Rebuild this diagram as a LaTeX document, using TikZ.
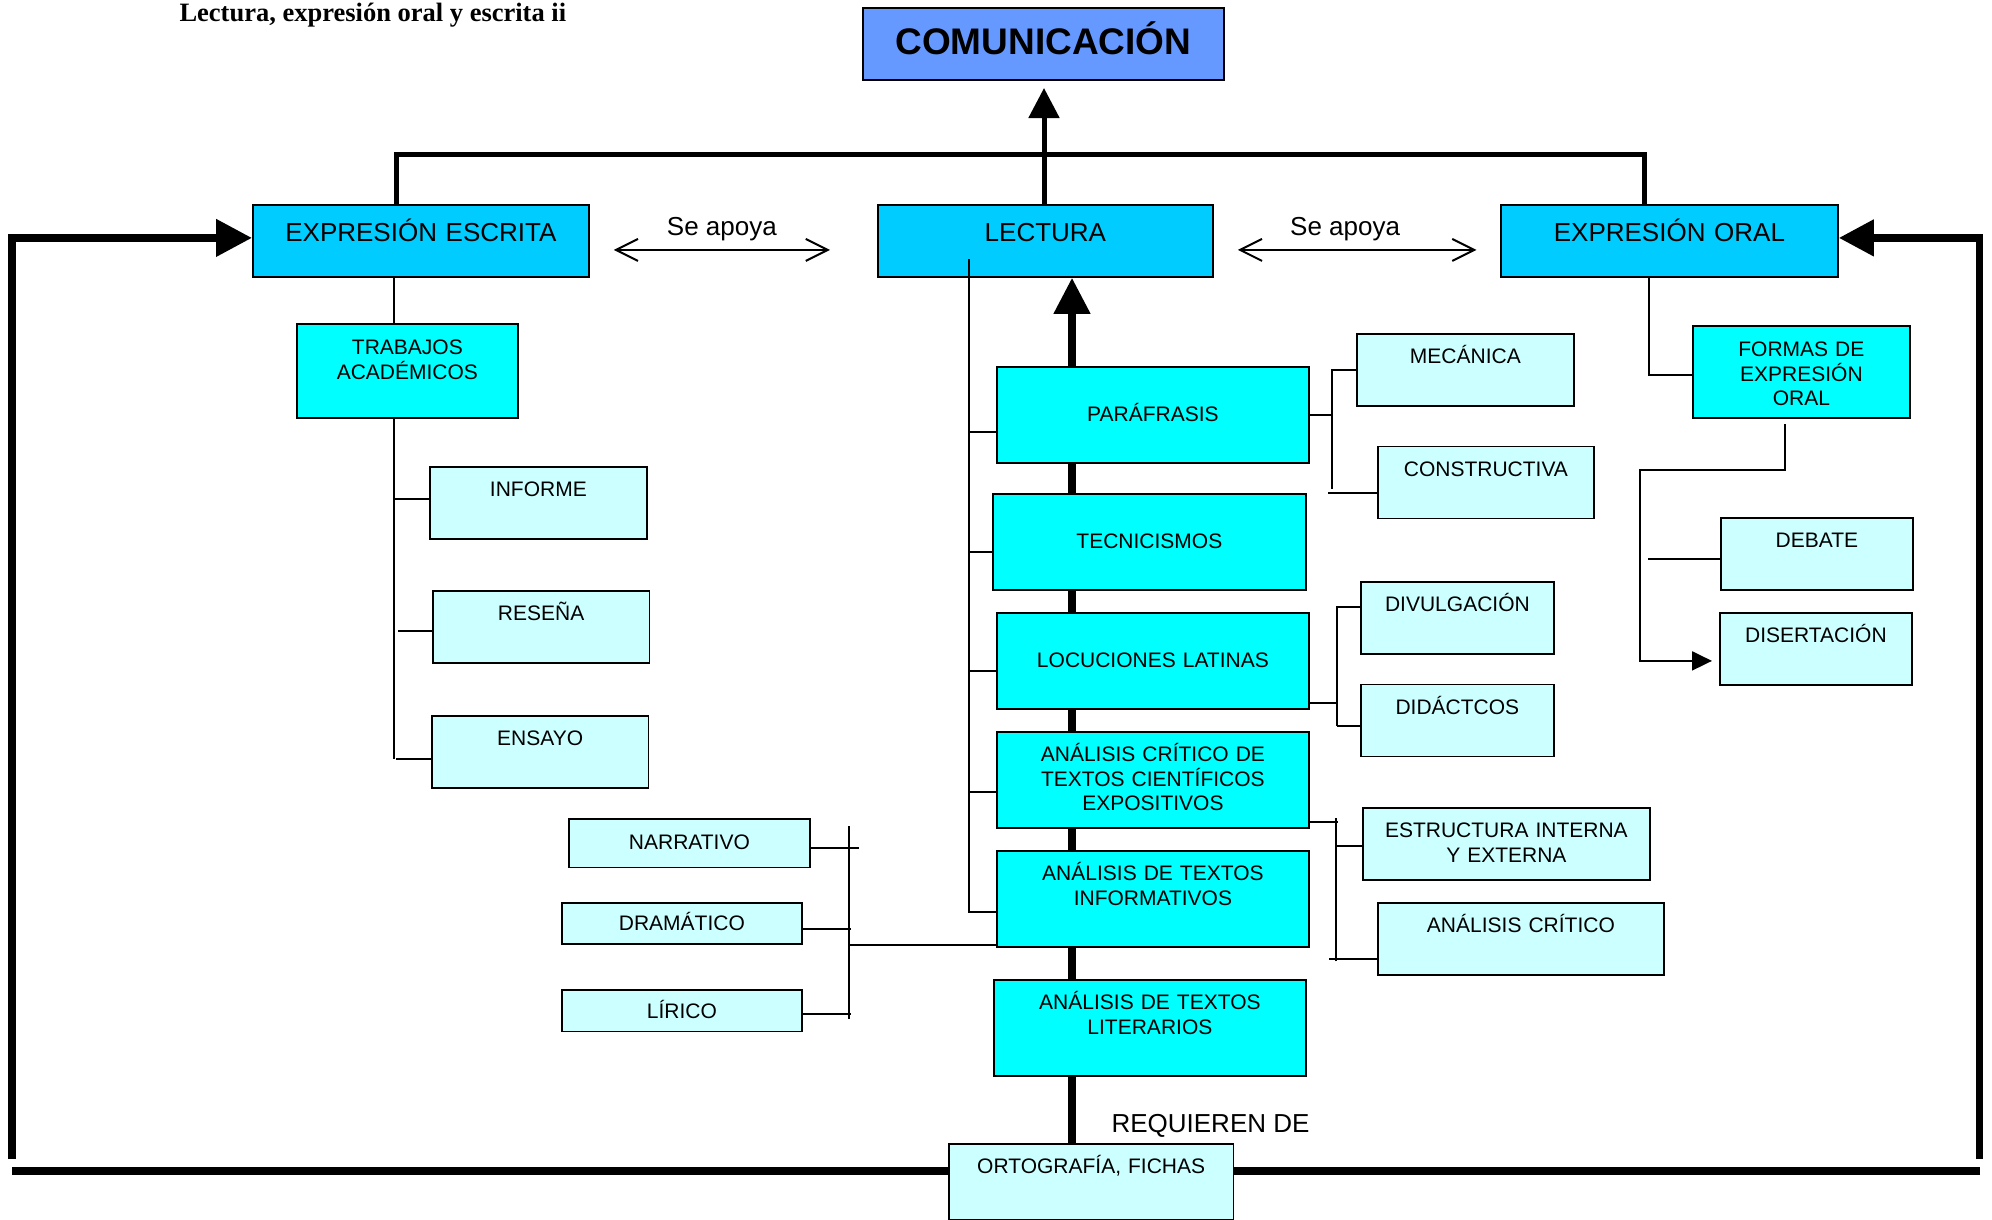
\documentclass[tikz,border=0pt]{standalone}
\usepackage{fontspec}
\setmainfont{Liberation Sans}
\newfontfamily\titlefont{Liberation Serif}
\usetikzlibrary{arrows.meta,backgrounds}
\definecolor{azulcom}{HTML}{6699FF}
\definecolor{azul}{HTML}{00CCFF}
\definecolor{turquesa}{HTML}{00FFFF}
\definecolor{celeste}{HTML}{CCFFFF}
\tikzset{>={Straight Barb[length=22pt,width=22pt]}}
\tikzset{
    caja/.style={draw, line width=1.8pt, inner sep=0pt, align=center, anchor=north west,
        font=\fontsize{21}{24.5}\selectfont, text height=15pt},
    hoja/.style={caja, fill=celeste, minimum height=72pt, text depth=27pt},
    tema/.style={caja, fill=turquesa},
    rama/.style={caja, fill=azul, minimum height=72pt, font=\fontsize{26}{30}\selectfont,
        text height=18.6pt, text depth=18.4pt},
    fino/.style={line width=2pt},
    grueso/.style={line width=5pt},
    lazo/.style={line width=7.5pt},
}

\begin{document}
\begin{tikzpicture}[x=1pt, y=-1pt]

    \useasboundingbox (0,0) rectangle (1992,1219);

    \node[anchor=base west, font=\titlefont\bfseries\fontsize{26.5}{30}\selectfont] (titulo) at (176,21) {Lectura, expresión oral y escrita ii};

    \node[caja, fill=azulcom, text width=361pt, minimum height=72pt, font=\bfseries\fontsize{37}{40}\selectfont,
        text height=26.5pt, text depth=6pt] (com) at (862,7) {COMUNICACIÓN};

    \node[rama, text width=336pt] (escrita) at (252,204) {EXPRESIÓN ESCRITA};
    \node[rama, text width=335pt] (lect) at (877,204) {LECTURA};
    \node[rama, text width=337pt] (oral) at (1500,204) {EXPRESIÓN ORAL};

    % columna de la lectura
    \node[tema, text width=312pt, minimum height=96pt, text depth=2pt] (para) at (996,366) {PARÁFRASIS};
    \node[tema, text width=313pt, minimum height=96pt, text depth=2pt] (tec) at (992,493) {TECNICISMOS};
    \node[tema, text width=312pt, minimum height=96pt, text depth=2pt] (loc) at (996,612) {LOCUCIONES LATINAS};
    \node[tema, text width=312pt, minimum height=96pt, text depth=51pt] (crit) at (996,731) {ANÁLISIS CRÍTICO DE\\TEXTOS CIENTÍFICOS\\EXPOSITIVOS};
    \node[tema, text width=312pt, minimum height=96pt, text depth=51pt] (info) at (996,850) {ANÁLISIS DE TEXTOS\\INFORMATIVOS};
    \node[tema, text width=312pt, minimum height=96pt, text depth=51pt] (lit) at (993,979) {ANÁLISIS DE TEXTOS\\LITERARIOS};

    \node[hoja, text width=217pt] (mec) at (1356,333) {MECÁNICA};
    \node[hoja, text width=216pt] (cons) at (1377,445.5) {CONSTRUCTIVA};
    \node[hoja, text width=193pt] (div) at (1360,581) {DIVULGACIÓN};
    \node[hoja, text width=193pt] (did) at (1360,683.5) {DIDÁCTCOS};
    \node[hoja, text width=287pt] (estr) at (1362,807) {ESTRUCTURA INTERNA\\Y EXTERNA};
    \node[hoja, text width=286pt] (acrit) at (1377,902) {ANÁLISIS CRÍTICO};

    \node[hoja, text width=241pt, minimum height=48.5pt, text depth=2pt] (narr) at (568,818) {NARRATIVO};
    \node[hoja, text width=240pt, minimum height=41pt, text depth=0pt] (dram) at (561,902) {DRAMÁTICO};
    \node[hoja, text width=240pt, minimum height=41.5pt, text depth=0pt] (lir) at (561,989) {LÍRICO};

    % expresion escrita
    \node[tema, text width=221pt, minimum height=94pt, text depth=47pt] (trab) at (296,323) {TRABAJOS\\ACADÉMICOS};
    \node[hoja, text width=217pt] (inf) at (429,466) {INFORME};
    \node[hoja, text width=216.5pt] (res) at (432,590) {RESEÑA};
    \node[hoja, text width=216.5pt] (ens) at (431,715) {ENSAYO};

    % expresion oral
    \node[tema, text width=217pt, minimum height=92pt, text depth=45pt] (formas) at (1692,325) {FORMAS DE\\EXPRESIÓN\\ORAL};
    \node[hoja, text width=192pt] (deb) at (1720,517) {DEBATE};
    \node[hoja, text width=192pt] (dis) at (1719,612) {DISERTACIÓN};

    \node[hoja, text width=284.5pt, minimum height=76pt, text depth=32pt] (orto) at (948,1143) {ORTOGRAFÍA, FICHAS};
    \node[anchor=base west, font=\fontsize{26}{30}\selectfont] (req) at (1108,1132) {REQUIEREN DE};

    \coordinate (marco) at (1044,154);
    \coordinate (punta) at (1044,88);
    \coordinate (eje) at (1072,0);
    \coordinate (lizq) at (12,1159);
    \coordinate (lder) at (1979.5,1159);
    \coordinate (bizq) at (12,1171);
    \coordinate (bder) at (1980,1171);
    \coordinate (bl) at (969,259);
    \coordinate (barra) at (849,826);
    \coordinate (codo) at (1640,469.6);

    \begin{scope}[on background layer]
        \draw[lazo, -{Triangle[length=36pt,width=35pt]}] (eje |- orto.north) -- (eje |- lect.south);
    \end{scope}

    \draw[grueso] ([xshift=-24.5pt]escrita.north) |- (marco) -| ([xshift=-24.5pt]oral.north);
    \draw[grueso, -{Triangle[length=30pt,width=30pt]}] (marco |- lect.north) -- (punta);

    \draw[lazo, -{Triangle[length=36pt,width=36pt]}] (lizq) |- ([yshift=3pt]escrita.west);
    \draw[lazo, -{Triangle[length=35pt,width=35pt]}] (lder) |- ([yshift=3pt]oral.east);
    \draw[line width=8pt] (bizq) -- (bizq -| orto.west);
    \draw[line width=8pt] (bder) -- (bder -| orto.east);

    \draw[fino, <->] ([shift={(24pt,-9pt)}]escrita.east) -- ([shift={(-47pt,-9pt)}]lect.west)
        node[midway, anchor=base, yshift=14pt, font=\fontsize{26}{30}\selectfont] (apoyo1) {Se apoya};
    \draw[fino, <->] ([shift={(24pt,-9pt)}]lect.east) -- ([shift={(-23.5pt,-9pt)}]oral.west)
        node[midway, anchor=base, yshift=14pt, xshift=-12pt, font=\fontsize{26}{30}\selectfont] (apoyo2) {Se apoya};

    \draw[fino] (bl) |- ([yshift=-13pt]info.west);
    \draw[fino] ([yshift=-17pt]para.west) -- +(-27,0);
    \draw[fino] ([yshift=-10pt]tec.west) -- +(-23,0);
    \draw[fino] ([yshift=-10.5pt]loc.west) -- +(-27,0);
    \draw[fino] ([yshift=-12pt]crit.west) -- +(-27,0);

    \draw[fino] (para.east) -- +(21,0);
    \draw[fino] (mec.west) -- +(-24,0) -- +(-24,119);
    \draw[fino] ([yshift=-11pt]cons.west) -- +(-49,0);

    \draw[fino] ([yshift=-42pt]loc.east) -- +(28,0);
    \draw[fino] ([yshift=11pt]div.west) -- +(-23.5,0) -- +(-23.5,119);
    \draw[fino] ([yshift=-5.5pt]did.west) -- +(-23.5,0);

    \draw[fino] ([yshift=-42pt]crit.east) -- +(28,0);
    \draw[fino] ([yshift=-2.5pt]estr.west) -- +(-26,0);
    \draw[fino] ([yshift=-20.5pt]acrit.west) -- +(-48.5,0);
    \draw[fino] ([yshift=-20.5pt]acrit.west) ++(-41,2) -- +(0,-143);

    \draw[fino] ([yshift=-5pt]narr.east) -- +(48,0);
    \draw[fino] ([yshift=-5.5pt]dram.east) -- +(48,0);
    \draw[fino] ([yshift=-3.5pt]lir.east) -- +(48,0);
    \draw[fino] (barra) -- +(0,192.7);
    \draw[fino] ([yshift=-46pt]info.west) -- +(-147,0);

    \draw[fino] ([xshift=-26.5pt]escrita.south) -- +(0,47);
    \draw[fino] ([xshift=-13pt]trab.south) -- +(0,340);
    \draw[fino] ([yshift=3.5pt]inf.west) -- +(-34,0);
    \draw[fino] ([yshift=-4pt]res.west) -- +(-34,0);
    \draw[fino] ([yshift=-7.5pt]ens.west) -- +(-35,0);

    \draw[fino] ([xshift=-20pt]oral.south) |- ([yshift=-3pt]formas.west);
    \draw[fino, -{Triangle[length=20pt,width=19pt]}] ([shift={(-16pt,-5pt)}]formas.south) |- (codo) |- ([shift={(-7pt,-12pt)}]dis.west);
    \draw[fino] ([yshift=-5pt]deb.west) -- +(-72,0);

\end{tikzpicture}
\end{document}
